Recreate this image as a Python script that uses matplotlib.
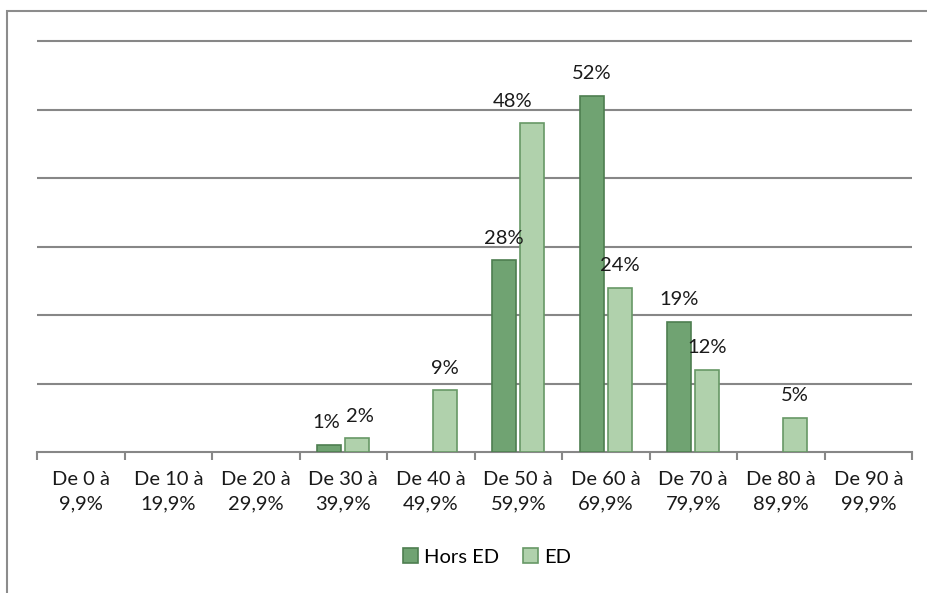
import matplotlib.pyplot as plt
import numpy as np
from matplotlib.patches import Patch, Rectangle

plt.rcParams["font.family"] = ["Lato", "DejaVu Sans"]

categories = [
    "De 0 à\n9,9%", "De 10 à\n19,9%", "De 20 à\n29,9%", "De 30 à\n39,9%",
    "De 40 à\n49,9%", "De 50 à\n59,9%", "De 60 à\n69,9%", "De 70 à\n79,9%",
    "De 80 à\n89,9%", "De 90 à\n99,9%",
]
hors_ed = [0, 0, 0, 1, 0, 28, 52, 19, 0, 0]
ed = [0, 0, 0, 2, 9, 48, 24, 12, 5, 0]

DARK = "#70a372"
DARK_EDGE = "#4e7e50"
LIGHT = "#b0d1ac"
LIGHT_EDGE = "#679866"
GRID = "#878787"
FS = 14.5

fig = plt.figure(figsize=(9.28, 5.93), dpi=100)
ax = fig.add_axes([37 / 928, 141 / 593, 875 / 928, (593 - 34.2 - 141) / 593])

# outer chart frame (runs off the right and bottom edge)
fig.patches.append(Rectangle((7 / 928, -0.1), 2.0, (593 - 11) / 593 + 0.1,
                             transform=fig.transFigure, fill=False,
                             edgecolor="#8c8c8c", lw=1.5))

x = np.arange(len(categories))
w = 0.275
off = 0.16
b1 = ax.bar(x - off, hors_ed, w, color=DARK, edgecolor=DARK_EDGE, lw=1.2, zorder=3)
b2 = ax.bar(x + off, ed, w, color=LIGHT, edgecolor=LIGHT_EDGE, lw=1.2, zorder=3)

# empty classes get no visible bar
for bar, v in list(zip(b1, hors_ed)) + list(zip(b2, ed)):
    if v == 0:
        bar.set_visible(False)

# value labels, skipping empty classes
def label_bars(bars, values, shifts):
    for bar, v in zip(bars, values):
        if v == 0:
            continue
        dx = shifts.get(v, 0)
        ax.annotate(f"{v}%", (bar.get_x() + bar.get_width() / 2, v),
                    xytext=(dx, 16), textcoords="offset points",
                    ha="center", va="center", fontsize=FS, color="#1a1a1a")

label_bars(b1, hors_ed, {1: -2})
label_bars(b2, ed, {48: -14, 2: 2})

ax.set_xlim(-0.5, len(categories) - 0.5)
ax.set_ylim(0, 61)
ax.set_yticks(range(10, 61, 10))
ax.yaxis.grid(True, color=GRID, lw=1.5, zorder=0)
ax.tick_params(axis="y", left=False, labelleft=False)

for s in ["top", "right", "left"]:
    ax.spines[s].set_visible(False)
ax.spines["bottom"].set_color(GRID)
ax.spines["bottom"].set_linewidth(1.5)

ax.set_xticks(x)
ax.set_xticklabels(categories, fontsize=FS, color="#1a1a1a", linespacing=1.5)
ax.set_xticks(np.arange(-0.5, len(categories), 1), minor=True)
ax.tick_params(axis="x", which="major", length=0, pad=14)
ax.tick_params(axis="x", which="minor", length=6, width=1.5, color=GRID)

handles = [
    Patch(facecolor=DARK, edgecolor=DARK_EDGE, lw=1.2, label="Hors ED"),
    Patch(facecolor=LIGHT, edgecolor=LIGHT_EDGE, lw=1.2, label="ED"),
]
fig.legend(handles=handles, loc="center", bbox_to_anchor=(487 / 928, 1 - 557 / 593),
           ncol=2, frameon=False, fontsize=FS, handlelength=0.75,
           handleheight=0.75, handletextpad=0.3, columnspacing=1.2)

fig.savefig("out.png", dpi=100, facecolor="white")
